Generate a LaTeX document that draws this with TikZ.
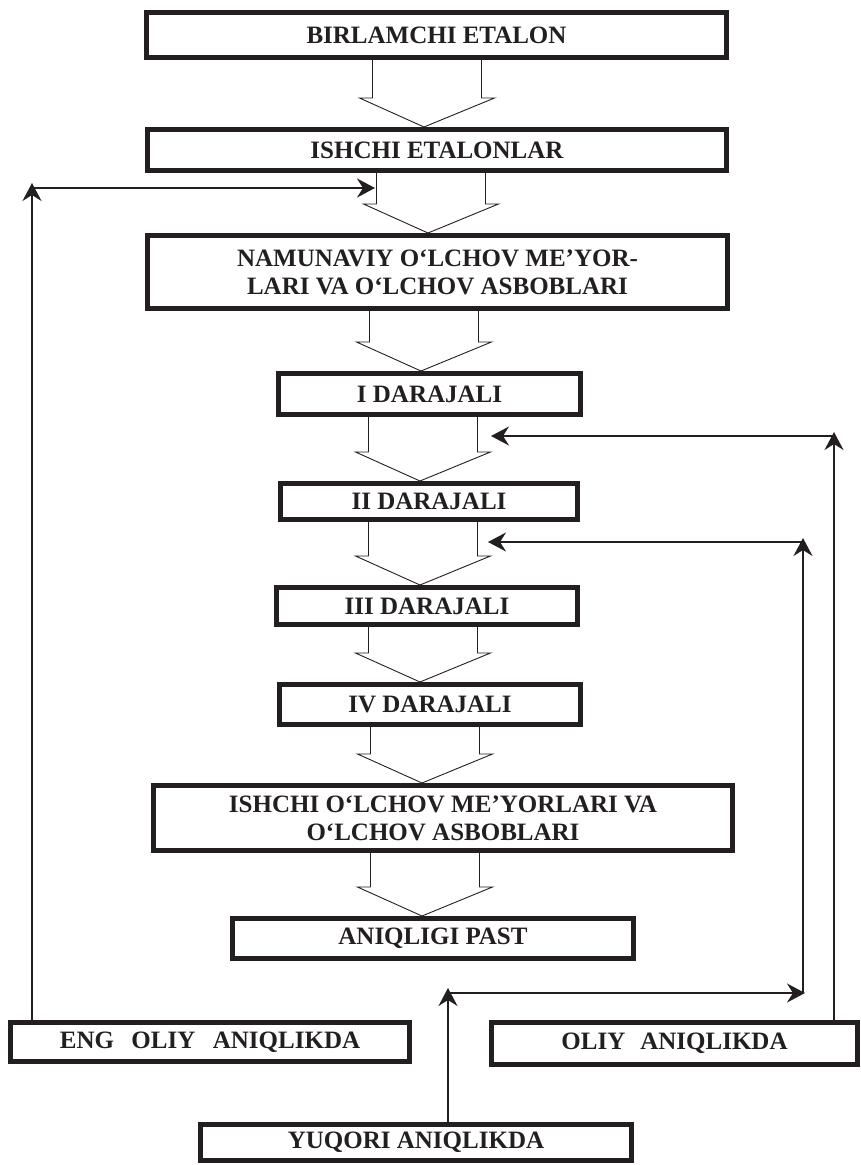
\documentclass[tikz,border=0pt]{standalone}
\usepackage{fontspec}
\setmainfont{Liberation Serif}
\usetikzlibrary{calc,arrows.meta}
\definecolor{ink}{HTML}{231F20}
\newcommand\blkarr[3]{%
  \draw[blk] let \p1=(#1.south), \p2=(#2.north) in
    (#3pt-54.5pt,\y1) -- (#3pt-54.5pt,\y2+29pt) -- (#3pt-67.5pt,\y2+29pt)
    -- (#3pt-3pt,\y2) -- (#3pt+67.5pt,\y2+29pt) -- (#3pt+54.5pt,\y2+29pt)
    -- (#3pt+54.5pt,\y1);}
\begin{document}
\begin{tikzpicture}[x=1pt,y=-1pt,
  box/.style={draw=ink,line width=5pt,rectangle,inner sep=0pt,align=center,
    text=ink,font=\fontsize{25}{28}\selectfont\bfseries},
  blk/.style={draw=ink,line width=0.9pt,line join=miter},
  fb/.style={draw=ink,line width=1.9pt,-{Stealth[length=18pt,width=19pt,inset=6pt]}}]
\useasboundingbox (0,0) rectangle (861,1165);
\fill[white] (0,0) rectangle (861,1165);
% boxes
\node[box,minimum width=580,minimum height=45] (b1) at (436.5,35) {BIRLAMCHI ETALON};
\node[box,minimum width=579,minimum height=41] (b2) at (437,150) {ISHCHI ETALONLAR};
\node[box,minimum width=580,minimum height=73] (b3) at (437.5,272) {NAMUNAVIY O‘LCHOV ME’YOR-\\LARI VA O‘LCHOV ASBOBLARI};
\node[box,minimum width=302,minimum height=41] (d1) at (429.5,394) {I DARAJALI};
\node[box,minimum width=297,minimum height=36] (d2) at (429,501.5) {II DARAJALI};
\node[box,minimum width=301,minimum height=37] (d3) at (427,606) {III DARAJALI};
\node[box,minimum width=301,minimum height=40] (d4) at (430,704.5) {IV DARAJALI};
\node[box,minimum width=579,minimum height=65] (b8) at (443,818) {ISHCHI O‘LCHOV ME’YORLARI VA\\O‘LCHOV ASBOBLARI};
\node[box,minimum width=401,minimum height=40] (b9) at (433,938.5) {ANIQLIGI PAST};
\node[box,minimum width=399,minimum height=39] (eng) at (210,1042) {ENG\hspace{0.45em} OLIY\hspace{0.45em} ANIQLIKDA};
\node[box,minimum width=366,minimum height=42] (oliy) at (674.5,1043.5) {OLIY\hspace{0.35em} ANIQLIKDA};
\node[box,minimum width=431,minimum height=36] (yuq) at (416,1142.5) {YUQORI ANIQLIKDA};
% block arrows
\blkarr{b1}{b2}{427}
\blkarr{b2}{b3}{431}
\blkarr{b3}{d1}{424}
\blkarr{d1}{d2}{423}
\blkarr{d2}{d3}{423}
\blkarr{d3}{d4}{423}
\blkarr{d4}{b8}{425}
\blkarr{b8}{b9}{425}
% feedback connectors
\coordinate (cL) at (32,183);
\coordinate (hL) at (32,188);
\coordinate (tL) at (375,188);
\draw[fb] (eng.north -| cL) -- (cL);
\draw[fb] (hL) -- (tL);
\coordinate (cR1) at (834,432);
\coordinate (hR1) at (834,436);
\coordinate (tR1) at (491,436);
\draw[fb] (oliy.north -| cR1) -- (cR1);
\draw[fb] (hR1) -- (tR1);
\coordinate (cY) at (448,988);
\coordinate (hY) at (448,993);
\coordinate (tY) at (805,993);
\draw[fb] (yuq.north -| cY) -- (cY);
\draw[fb] (hY) -- (tY);
\coordinate (bR2) at (803,993);
\coordinate (cR2) at (803,538);
\coordinate (hR2) at (803,542);
\coordinate (tR2) at (488,542);
\draw[fb] (bR2) -- (cR2);
\draw[fb] (hR2) -- (tR2);
\end{tikzpicture}
\end{document}
